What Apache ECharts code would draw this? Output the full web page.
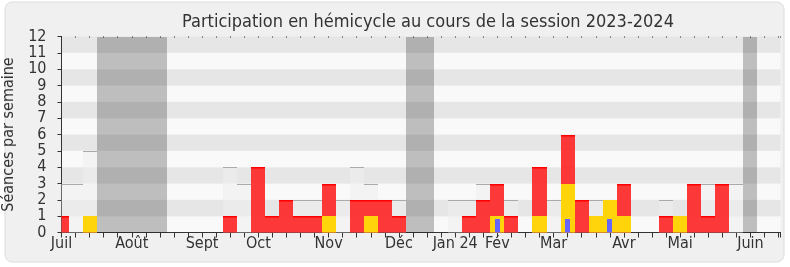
<!DOCTYPE html>
<html>
<head>
<meta charset="utf-8">
<script src="https://cdn.jsdelivr.net/npm/echarts@6/dist/echarts.min.js"></script>
<style>
html,body{margin:0;padding:0;background:#ffffff;}
#chart{width:790px;height:267px;}
</style>
</head>
<body>
<div id="chart"></div>
<script>
// Week index 0 = first week of July 2023 ... 51 = last week of June 2024
const monthWeeks  = [0, 5, 10, 14, 19, 24, 28, 31, 35, 40, 44, 49];
const monthLabels = ["Juil", "Août", "Sept", "Oct", "Nov", "Déc", "Jan 24", "Fév", "Mar", "Avr", "Mai", "Juin"];
const yTicks = [0,1,2,3,4,5,6,7,8,9,10,11,12];

// Sessions held in the hemicycle each week (light grey)
const sessions = [3,3,5,0,0,0,0,0,0,0,0,0,4,3,4,1,2,2,2,3,2,4,3,2,2,0,0,0,2,2,3,3,2,0,4,2,6,2,2,2,3,0,0,2,1,3,3,3,3,0,0,0];
// Présences (red)
const presences = [1,0,1,0,0,0,0,0,0,0,0,0,1,0,4,1,2,1,1,3,0,2,2,2,1,0,0,0,0,1,2,3,1,0,4,0,6,2,1,2,3,0,0,1,1,3,1,3,0,0,0,0];
// Participations (yellow)
const participations = [0,0,1,0,0,0,0,0,0,0,0,0,0,0,0,0,0,0,0,1,0,0,1,0,0,0,0,0,0,0,0,1,0,0,1,0,3,0,1,2,1,0,0,0,1,0,0,0,0,0,0,0];
// Questions orales (blue)
const questions = [0,0,0,0,0,0,0,0,0,0,0,0,0,0,0,0,0,0,0,0,0,0,0,0,0,0,0,0,0,0,0,0.85,0,0,0,0,0.85,0,0,0.85,0,0,0,0,0,0,0,0,0,0,0,0];
// Vacances parlementaires (weeks)
const vacationWeeks = [3,4,5,6,7,25,26,49];
const vacationHeight = 12;

const FONT = '"DejaVu Sans Condensed", "Roboto", "DejaVu Sans", sans-serif';

function toData(arr){ return arr.map((v,i)=>[i,v]); }

function makeRender(fill, topColor, widthFrac, topW){
  return function(params, api){
    const x = api.value(0), v = api.value(1);
    if (!v) return;
    const p0 = api.coord([x, 0]);
    const p1 = api.coord([x, v]);
    const w = api.size([1, 0])[0] * widthFrac;
    const xl = Math.round(p0[0]-w/2), xr = Math.round(p0[0]+w/2);
    const yb = Math.round(p0[1]), yt = Math.round(p1[1]);
    const cs = {x: params.coordSys.x, y: params.coordSys.y, width: params.coordSys.width, height: params.coordSys.height};
    const body = echarts.graphic.clipRectByRect({x: xl, y: yt, width: xr-xl, height: yb-yt}, cs);
    if (!body) return;
    const children = [{type:'rect', shape: body, style:{fill: fill}}];
    if (topColor){
      const top = echarts.graphic.clipRectByRect({x: xl, y: yt, width: xr-xl, height: topW}, cs);
      if (top) children.push({type:'rect', shape: top, style:{fill: topColor}});
    }
    return {type:'group', children: children};
  };
}

const chart = echarts.init(document.getElementById('chart'), null, {renderer:'canvas'});
const xCommon = {type:'value', min:0, max:51.14, interval:1, splitLine:{show:false}};
chart.setOption({
  animation:false,
  backgroundColor:'transparent',
  textStyle:{fontFamily:FONT},
  graphic:[{type:'rect', z:-10, shape:{x:5, y:2, width:779, height:260, r:7}, style:{fill:'#f0f0f0', stroke:'#dcdcdc', lineWidth:1}}],
  title:{text:'Participation en hémicycle au cours de la session 2023-2024', left:177, top:8,
    textStyle:{fontFamily:FONT, fontSize:18, fontWeight:'normal', color:'#333'}},
  grid:{left:61.5, right:9.5, top:36.5, bottom:34.5, containLabel:false, outerBoundsMode:'none'},
  xAxis:[
    Object.assign({}, xCommon, {position:'bottom',
      axisLine:{lineStyle:{color:'#333', width:1}},
      axisTick:{length:5, lineStyle:{color:'#333'}},
      axisLabel:{margin:3, fontSize:16, color:'#333', fontFamily:FONT,
        formatter:function(v){ const r=Math.round(v); if (Math.abs(r-v)>0.01) return ''; const k=monthWeeks.indexOf(r); return k>=0?monthLabels[k]:''; }}
    }),
    Object.assign({}, xCommon, {position:'top',
      axisLine:{show:false},
      axisTick:{inside:true, length:1, lineStyle:{color:'#222', width:1}},
      axisLabel:{show:false}
    })
  ],
  yAxis:{type:'value', min:yTicks[0], max:yTicks[yTicks.length-1], interval:1,
    name:'Séances par semaine', nameLocation:'middle', nameRotate:90, nameGap:41,
    nameTextStyle:{fontSize:16, color:'#333', fontFamily:FONT},
    axisLine:{show:true, lineStyle:{color:'#333'}},
    axisTick:{show:true, length:4, lineStyle:{color:'#333'}},
    axisLabel:{margin:15, fontSize:16, color:'#333', fontFamily:FONT},
    splitLine:{show:false},
    splitArea:{show:true, areaStyle:{color:['#f9f9f9','#e6e6e6']}}
  },
  series:[
    {name:'Séances', type:'custom', data:toData(sessions), encode:{x:0,y:1}, z:2,
      renderItem:makeRender('rgba(238,238,238,0.6)', '#aaaaaa', 1, 1)},
    {name:'Vacances', type:'custom', data:vacationWeeks.map(w=>[w, vacationHeight]), encode:{x:0,y:1}, z:3,
      renderItem:makeRender('rgba(0,0,0,0.235)', null, 1, 0)},
    {name:'Présences', type:'custom', data:toData(presences), encode:{x:0,y:1}, z:4,
      renderItem:makeRender('rgba(255,0,0,0.77)', '#ff0000', 1, 1.5)},
    {name:'Participations', type:'custom', data:toData(participations), encode:{x:0,y:1}, z:5,
      renderItem:makeRender('#ffd40a', null, 1, 0)},
    {name:'Questions', type:'custom', data:toData(questions), encode:{x:0,y:1}, z:6,
      renderItem:makeRender('#6666ff', null, 0.34, 0)}
  ]
});
</script>
</body>
</html>
